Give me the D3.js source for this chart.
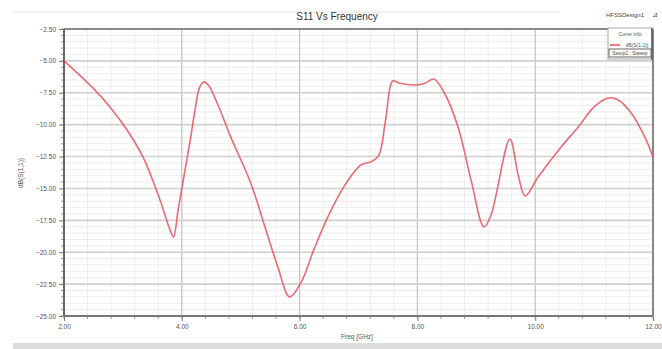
<!DOCTYPE html>
<html>
<head>
<meta charset="utf-8">
<script src="https://cdn.jsdelivr.net/npm/d3@7"></script>
<style>
body{margin:0;background:#fff;}
text{font-family:"Liberation Sans",Arial,sans-serif;}
</style>
</head>
<body>
<script>
// S11 sweep (GHz, dB)
var freq = [2.00,2.49,2.78,3.07,3.34,3.63,3.80,3.86,3.94,4.14,4.23,4.30,4.37,4.45,4.60,4.83,5.17,5.39,5.63,5.83,6.02,6.24,6.48,6.75,7.04,7.21,7.34,7.46,7.58,7.69,7.97,8.14,8.28,8.45,8.69,8.91,9.13,9.25,9.57,9.71,9.83,10.05,10.44,10.73,11.00,11.24,11.41,11.63,11.86,12.00];
var s11  = [-5.00,-7.12,-8.61,-10.42,-12.53,-15.90,-18.25,-18.80,-16.60,-11.30,-8.70,-7.10,-6.65,-6.89,-8.30,-10.96,-14.57,-17.70,-21.15,-23.50,-22.41,-19.82,-17.23,-14.88,-13.16,-12.92,-12.45,-9.63,-6.58,-6.73,-6.89,-6.73,-6.42,-7.44,-10.18,-14.33,-18.02,-17.08,-11.12,-13.94,-15.59,-14.10,-11.75,-10.18,-8.61,-7.91,-8.06,-9.08,-10.96,-12.53];
var xTicks = [2,4,6,8,10,12];
var yTicks = [-2.5,-5,-7.5,-10,-12.5,-15,-17.5,-20,-22.5,-25];

var W=662, H=349;
var L=64, R=653, T=29, B=316;

var svg = d3.select("body").append("svg").attr("width",W).attr("height",H);

var x = d3.scaleLinear().domain([2,12]).range([L,R]);
var y = d3.scaleLinear().domain([-2.5,-25]).range([T,B]);

// frame pieces
svg.append("line").attr("x1",13).attr("x2",560).attr("y1",12).attr("y2",12).attr("stroke","#e4e4e4");
svg.append("rect").attr("x",13).attr("y",343).attr("width",W-13).attr("height",6).attr("fill","#dcdcdc");

// minor grid
var minorX = d3.range(2,12.001,0.4);
var minorY = d3.range(-2.5,-25.001,-0.5);
svg.selectAll(".mx").data(minorX).enter().append("line")
  .attr("x1",d=>x(d)).attr("x2",d=>x(d)).attr("y1",T).attr("y2",B)
  .attr("stroke","#ededed").attr("stroke-width",1);
svg.selectAll(".my").data(minorY).enter().append("line")
  .attr("x1",L).attr("x2",R).attr("y1",d=>y(d)).attr("y2",d=>y(d))
  .attr("stroke","#ededed").attr("stroke-width",1);
// major grid
svg.selectAll(".gx").data(xTicks).enter().append("line")
  .attr("x1",d=>x(d)).attr("x2",d=>x(d)).attr("y1",T).attr("y2",B)
  .attr("stroke","#c4c4c4").attr("stroke-width",1.2);
svg.selectAll(".gy").data(yTicks).enter().append("line")
  .attr("x1",L).attr("x2",R).attr("y1",d=>y(d)).attr("y2",d=>y(d))
  .attr("stroke","#d0d0d0").attr("stroke-width",1.6);

// axes
var yAxis = d3.axisLeft(y).tickValues(yTicks).tickSize(5).tickPadding(3).tickFormat(d3.format(".2f"));
var gy = svg.append("g").attr("transform","translate("+L+",0)").call(yAxis);
var xAxis = d3.axisBottom(x).tickValues(xTicks).tickSize(5).tickPadding(3).tickFormat(d3.format(".2f"));
var gx = svg.append("g").attr("transform","translate(0,"+B+")").call(xAxis);
[gx,gy].forEach(function(g){
  g.select(".domain").remove();
  g.selectAll("line").attr("stroke","#777");
  g.selectAll("text").attr("fill","#555").style("font-size","6.5px");
});
// minor ticks
svg.selectAll(".ty").data(minorY).enter().append("line")
  .attr("x1",L-3).attr("x2",L).attr("y1",d=>y(d)).attr("y2",d=>y(d)).attr("stroke","#999");
svg.selectAll(".tx").data(minorX).enter().append("line")
  .attr("x1",d=>x(d)).attr("x2",d=>x(d)).attr("y1",B).attr("y2",B+3).attr("stroke","#999");

// plot border
svg.append("line").attr("x1",L).attr("x2",R).attr("y1",T).attr("y2",T).attr("stroke","#888").attr("stroke-width",2);
svg.append("line").attr("x1",L).attr("x2",R).attr("y1",B).attr("y2",B).attr("stroke","#777").attr("stroke-width",2);
svg.append("line").attr("x1",L).attr("x2",L).attr("y1",T).attr("y2",B).attr("stroke","#666").attr("stroke-width",2);
svg.append("line").attr("x1",R).attr("x2",R).attr("y1",T).attr("y2",B).attr("stroke","#888").attr("stroke-width",2);

// curve
var pts = freq.map((f,i)=>[f,s11[i]]);
var line = d3.line().x(d=>x(d[0])).y(d=>y(d[1])).curve(d3.curveCatmullRom.alpha(0.5));
svg.append("path").datum(pts).attr("d",line)
  .attr("fill","none").attr("stroke","#e8505a").attr("stroke-width",1.6).attr("opacity",0.85);

// titles
svg.append("text").attr("x",337).attr("y",20).attr("text-anchor","middle")
  .attr("fill","#333").style("font-size","10px").text("S11 Vs Frequency");
svg.append("text").attr("x",357).attr("y",339).attr("text-anchor","middle")
  .attr("fill","#555").style("font-size","6.5px").text("Freq [GHz]");
svg.append("text").attr("transform","translate(23,173) rotate(-90)").attr("text-anchor","middle")
  .attr("fill","#555").style("font-size","6.5px").text("dB(S(1,1))");
svg.append("text").attr("x",625).attr("y",17).attr("text-anchor","middle")
  .attr("fill","#444").style("font-size","6px").text("HFSSDesign1");
svg.append("text").attr("x",655).attr("y",17).attr("text-anchor","middle")
  .attr("fill","#444").style("font-size","7px").text("⊿");

// legend
var lg = svg.append("g");
lg.append("rect").attr("x",608).attr("y",28).attr("width",44).attr("height",31)
  .attr("fill","#fff").attr("stroke","#aaa");
lg.append("line").attr("x1",652).attr("x2",652).attr("y1",28).attr("y2",60).attr("stroke","#555").attr("stroke-width",1.5);
lg.append("text").attr("x",630).attr("y",36).attr("text-anchor","middle")
  .attr("fill","#555").style("font-size","5px").text("Curve Info");
lg.append("line").attr("x1",610).attr("x2",620).attr("y1",45).attr("y2",45).attr("stroke","#e8505a").attr("stroke-width",1.5);
lg.append("text").attr("x",637).attr("y",47).attr("text-anchor","middle")
  .attr("fill","#555").style("font-size","5px").text("dB(S(1,1))");
lg.append("rect").attr("x",609).attr("y",49).attr("width",42).attr("height",8)
  .attr("fill","none").attr("stroke","#666");
lg.append("text").attr("x",630).attr("y",55).attr("text-anchor","middle")
  .attr("fill","#444").style("font-size","5px").text("Setup1 : Sweep");
</script>
</body>
</html>
